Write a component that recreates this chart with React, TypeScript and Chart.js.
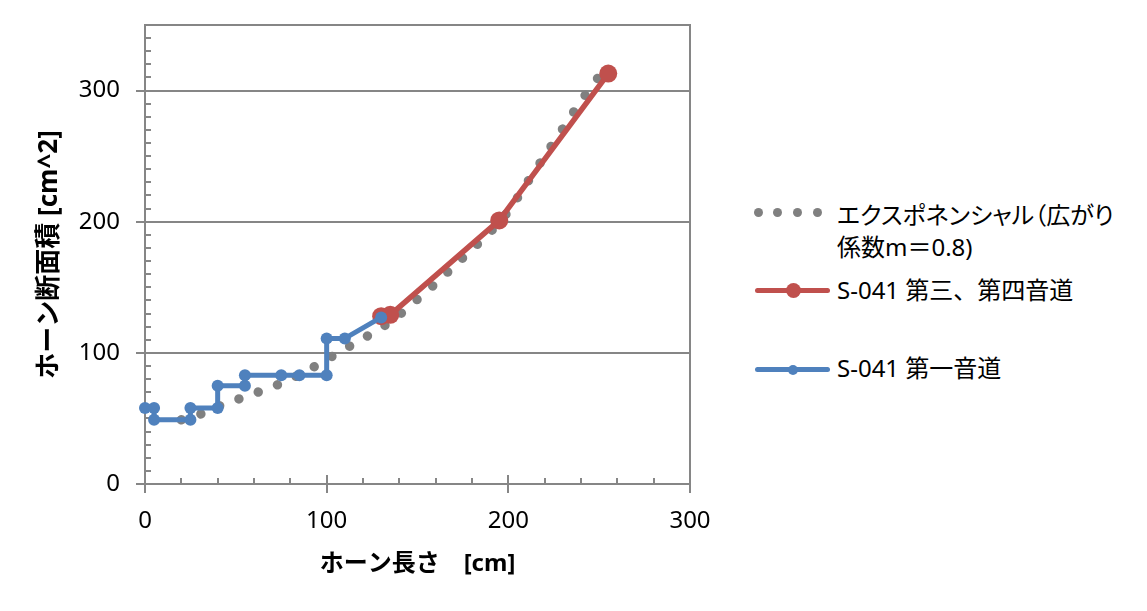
import { useEffect, useRef } from 'react';
import { Chart, registerables } from 'chart.js';

Chart.register(...registerables);

// ---- axis settings ----
const X_MIN = 0;
const X_MAX = 300;
const X_MAJOR = 100;
const X_MINOR = 20;
const Y_MIN = 0;
const Y_MAX = 350;
const Y_MAJOR = 100;
const Y_MINOR = 10;

const X_TITLE = 'ホーン長さ　[cm]';
const Y_TITLE = 'ホーン断面積 [cm^2]';

// ---- series ----
const SERIES_EXPO = 'エクスポネンシャル（広がり係数m＝0.8)';
const SERIES_CH34 = 'S-041 第三、第四音道';
const SERIES_CH1 = 'S-041 第一音道';

const expoX = [20, 30, 40, 50, 60, 70, 80, 90, 100, 110, 120, 130, 140, 150, 160, 170, 180, 190, 200, 210, 220, 230, 240, 250];
const expoY = [49, 53, 59, 64, 69, 74, 80, 87, 95, 103, 111, 119, 129, 141, 153, 166, 179, 192, 208, 229, 250, 271, 292, 311];

const ch34X = [130, 135, 195, 255];
const ch34Y = [128, 129, 201, 313];

const ch1X = [0, 5, 5, 25, 25, 40, 40, 55, 55, 75, 85, 100, 100, 110, 130];
const ch1Y = [58, 58, 49, 49, 58, 58, 75, 75, 83, 83, 83, 83, 111, 111, 127];

// ---- styles ----
const AXIS = '#868686';
const GRAY = '#808080';
const RED = '#C0504D';
const BLUE = '#4F81BD';
const FONT = '"Noto Sans", "Noto Sans CJK JP", sans-serif';

const toPoints = (xs: number[], ys: number[]) => xs.map((x, i) => ({ x, y: ys[i] }));

const framePlugin = {
  id: 'frame',
  beforeDatasetsDraw(chart: any) {
    const { ctx, chartArea: a, scales } = chart;
    const xs = scales.x;
    const ys = scales.y;
    ctx.save();
    ctx.strokeStyle = AXIS;
    ctx.lineWidth = 2;
    ctx.strokeRect(a.left, a.top, a.right - a.left, a.bottom - a.top);
    ctx.beginPath();
    for (let v = X_MIN; v <= X_MAX; v += X_MINOR) {
      const px = Math.round(xs.getPixelForValue(v));
      const major = v % X_MAJOR === 0;
      ctx.moveTo(px, a.bottom + (major ? 9 : 0));
      ctx.lineTo(px, a.bottom - (major ? 9 : 6));
    }
    for (let v = Y_MIN; v <= Y_MAX; v += Y_MINOR) {
      const py = Math.round(ys.getPixelForValue(v));
      const major = v % Y_MAJOR === 0;
      ctx.moveTo(a.left - (major ? 9 : 0), py);
      ctx.lineTo(a.left + (major ? 9 : 6), py);
    }
    ctx.stroke();
    ctx.restore();
  },
};

const legendText: any = {
  position: 'absolute',
  left: 837,
  fontFamily: FONT,
  fontSize: 24,
  lineHeight: '32px',
  color: '#000',
  whiteSpace: 'nowrap',
};

function LineSwatch({ y, color, r, w }: { y: number; color: string; r: number; w: number }) {
  return (
    <>
      <div style={{ position: 'absolute', left: 755, top: y - w / 2, width: 75, height: w, background: color, borderRadius: w / 2 }} />
      <div style={{ position: 'absolute', left: 793 - r, top: y - r, width: r * 2, height: r * 2, background: color, borderRadius: '50%' }} />
    </>
  );
}

export default function App() {
  const ref = useRef<HTMLCanvasElement>(null);

  useEffect(() => {
    const canvas = ref.current;
    if (!canvas) return;
    const chart = new Chart(canvas, {
      type: 'scatter',
      data: {
        datasets: [
          {
            label: SERIES_EXPO,
            data: toPoints(expoX, expoY),
            showLine: true,
            borderColor: GRAY,
            backgroundColor: GRAY,
            borderWidth: 9.5,
            borderDash: [0.001, 20.5],
            borderCapStyle: 'round',
            pointRadius: 0,
            pointHoverRadius: 0,
            tension: 0.3,
            order: 2,
            clip: false,
          } as any,
          {
            label: SERIES_CH34,
            data: toPoints(ch34X, ch34Y),
            showLine: true,
            borderColor: RED,
            backgroundColor: RED,
            borderWidth: 5.5,
            borderJoinStyle: 'round',
            pointRadius: 9,
            pointBorderWidth: 0,
            pointBackgroundColor: RED,
            tension: 0,
            order: 1,
            clip: false,
          } as any,
          {
            label: SERIES_CH1,
            data: toPoints(ch1X, ch1Y),
            showLine: true,
            borderColor: BLUE,
            backgroundColor: BLUE,
            borderWidth: 5,
            borderJoinStyle: 'round',
            pointRadius: 6,
            pointBorderWidth: 0,
            pointBackgroundColor: BLUE,
            tension: 0,
            order: 0,
            clip: false,
          } as any,
        ],
      },
      options: {
        responsive: false,
        animation: false,
        devicePixelRatio: 1,
        layout: { padding: { left: 0, top: 25, right: 50, bottom: 0 } },
        plugins: { legend: { display: false }, tooltip: { enabled: false } },
        font: { family: FONT },
        scales: {
          x: {
            type: 'linear',
            min: X_MIN,
            max: X_MAX,
            ticks: { stepSize: X_MAJOR, padding: 0, color: '#000', font: { family: FONT, size: 24 }, includeBounds: false },
            grid: { display: true, drawOnChartArea: false, drawTicks: true, tickLength: 23, tickColor: 'rgba(0,0,0,0)' },
            border: { display: true, color: AXIS, width: 2 },
            title: { display: true, text: X_TITLE, color: '#000', font: { family: FONT, size: 24, weight: 'bold' }, padding: { top: 0, bottom: 32 } },
            afterFit: (s: any) => { s.height = 127; },
          },
          y: {
            type: 'linear',
            min: Y_MIN,
            max: Y_MAX,
            ticks: { stepSize: Y_MAJOR, padding: 0, color: '#000', font: { family: FONT, size: 24 }, includeBounds: false },
            grid: {
              display: true,
              drawTicks: true,
              tickLength: 25,
              tickColor: 'rgba(0,0,0,0)',
              lineWidth: 2,
              color: (c: any) => (c.tick && c.tick.value === 0 ? 'rgba(0,0,0,0)' : AXIS),
            },
            border: { display: true, color: AXIS, width: 2 },
            title: { display: true, text: Y_TITLE, color: '#000', font: { family: FONT, size: 26, weight: 'bold' }, padding: { top: 34, bottom: 0 } },
            afterFit: (s: any) => { s.width = 145; },
          },
        },
      } as any,
      plugins: [framePlugin],
    });
    return () => chart.destroy();
  }, []);

  return (
    <div style={{ position: 'fixed', left: 0, top: 0, width: 1147, height: 611, background: '#fff', overflow: 'hidden' }}>
      <canvas ref={ref} width={740} height={611} style={{ position: 'absolute', left: 0, top: 0, width: 740, height: 611 }} />
      {[758.3, 777.7, 797.3, 817].map((cx) => (
        <div key={cx} style={{ position: 'absolute', left: cx - 4.5, top: 212.7 - 4.5, width: 9, height: 9, borderRadius: '50%', background: GRAY }} />
      ))}
      <div style={{ ...legendText, top: 199, fontFeatureSettings: '"palt"' }}>
        {SERIES_EXPO.slice(0, 13)}
        <br />
        {SERIES_EXPO.slice(13)}
      </div>
      <LineSwatch y={290} color={RED} r={7.5} w={5} />
      <div style={{ ...legendText, top: 274 }}>{SERIES_CH34}</div>
      <LineSwatch y={369.5} color={BLUE} r={5} w={5} />
      <div style={{ ...legendText, top: 352 }}>{SERIES_CH1}</div>
    </div>
  );
}
